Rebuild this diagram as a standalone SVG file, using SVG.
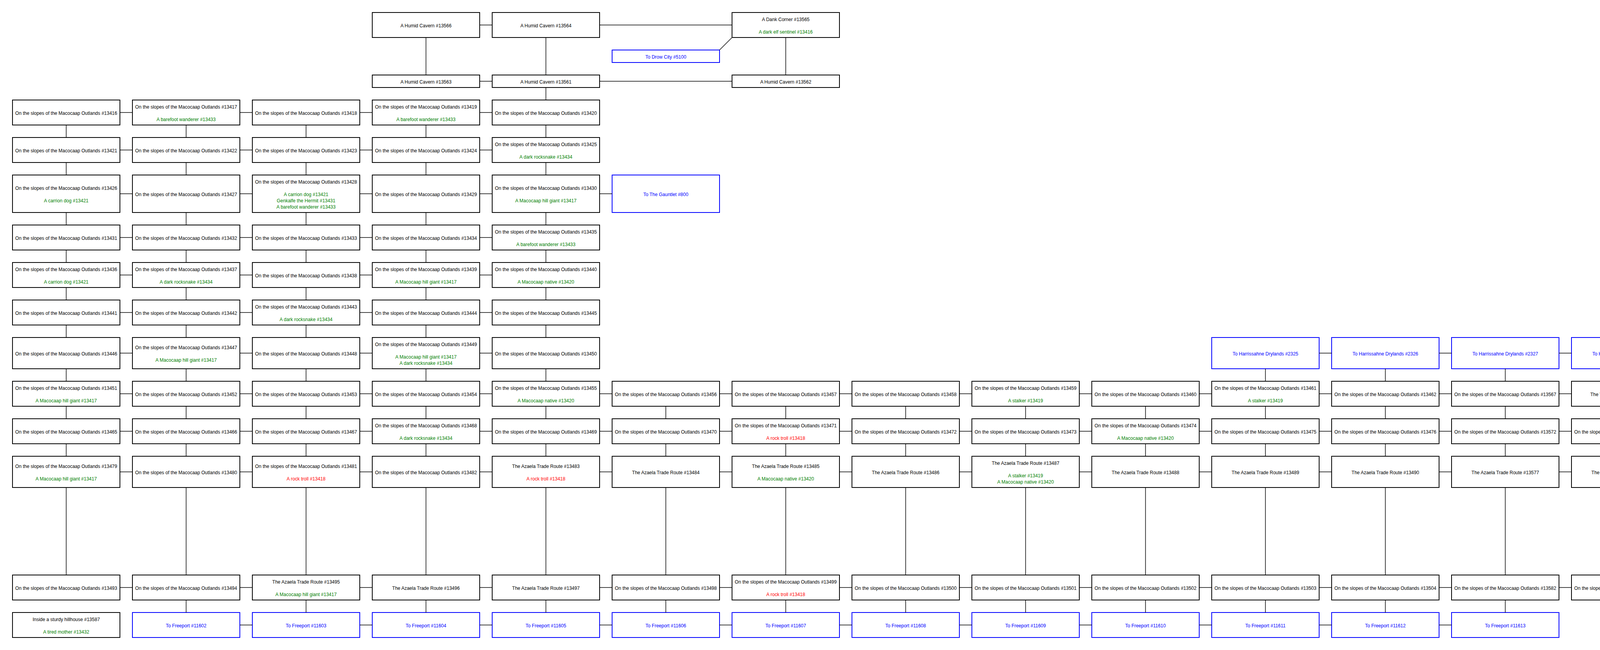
<svg xmlns="http://www.w3.org/2000/svg" width="6934" height="1664" viewBox="0 0 6934 1664">
<style>
.b{fill:#fff;stroke:#000;stroke-width:2}
.x{fill:#fff;stroke:#00f;stroke-width:2}
text{font-family:"Liberation Sans",Arial,Helvetica,sans-serif;font-size:12px;text-anchor:middle;fill:#000}
text.g{fill:#008000}
text.r{fill:#f00}
text.u{fill:#00f}
.e path{fill:none;stroke:#000;stroke-width:1.5}
.e path.a{marker-end:url(#ah)}
</style>
<defs>
<marker id="ah" markerUnits="userSpaceOnUse" markerWidth="12" markerHeight="18" viewBox="0 0 12 18" refX="9" refY="9" orient="auto"><path d="M9,9 L1,1 L1,17 Z" fill="#fff" stroke="#000" stroke-width="1.5"/></marker>
</defs>
<rect width="6934" height="1664" fill="#fff"/>
<g id="nodes">
<g id="n13566"><rect class="b" x="953" y="32" width="275" height="64"/><text x="1090.5" y="70">A Humid Cavern #13566</text></g>
<g id="n13564"><rect class="b" x="1260" y="32" width="275" height="64"/><text x="1397.5" y="70">A Humid Cavern #13564</text></g>
<g id="n13565"><rect class="b" x="1874" y="32" width="275" height="64"/><text x="2011.5" y="54">A Dank Corner #13565</text><text class="g" x="2011.5" y="86">A dark elf sentinel #13416</text></g>
<g id="n5100"><rect class="x" x="1567" y="128" width="275" height="32"/><text class="u" x="1704.5" y="150">To Drow City #5100</text></g>
<g id="n13563"><rect class="b" x="953" y="192" width="275" height="32"/><text x="1090.5" y="214">A Humid Cavern #13563</text></g>
<g id="n13561"><rect class="b" x="1260" y="192" width="275" height="32"/><text x="1397.5" y="214">A Humid Cavern #13561</text></g>
<g id="n13562"><rect class="b" x="1874" y="192" width="275" height="32"/><text x="2011.5" y="214">A Humid Cavern #13562</text></g>

<g id="n13416"><rect class="b" x="32" y="256" width="275" height="64"/><text x="169.5" y="294">On the slopes of the Macocaap Outlands #13416</text></g>
<g id="n13417"><rect class="b" x="339" y="256" width="275" height="64"/><text x="476.5" y="278">On the slopes of the Macocaap Outlands #13417</text><text class="g" x="476.5" y="310">A barefoot wanderer #13433</text></g>
<g id="n13418"><rect class="b" x="646" y="256" width="275" height="64"/><text x="783.5" y="294">On the slopes of the Macocaap Outlands #13418</text></g>
<g id="n13419"><rect class="b" x="953" y="256" width="275" height="64"/><text x="1090.5" y="278">On the slopes of the Macocaap Outlands #13419</text><text class="g" x="1090.5" y="310">A barefoot wanderer #13433</text></g>
<g id="n13420"><rect class="b" x="1260" y="256" width="275" height="64"/><text x="1397.5" y="294">On the slopes of the Macocaap Outlands #13420</text></g>

<g id="n13421"><rect class="b" x="32" y="352" width="275" height="64"/><text x="169.5" y="390">On the slopes of the Macocaap Outlands #13421</text></g>
<g id="n13422"><rect class="b" x="339" y="352" width="275" height="64"/><text x="476.5" y="390">On the slopes of the Macocaap Outlands #13422</text></g>
<g id="n13423"><rect class="b" x="646" y="352" width="275" height="64"/><text x="783.5" y="390">On the slopes of the Macocaap Outlands #13423</text></g>
<g id="n13424"><rect class="b" x="953" y="352" width="275" height="64"/><text x="1090.5" y="390">On the slopes of the Macocaap Outlands #13424</text></g>
<g id="n13425"><rect class="b" x="1260" y="352" width="275" height="64"/><text x="1397.5" y="374">On the slopes of the Macocaap Outlands #13425</text><text class="g" x="1397.5" y="406">A dark rocksnake #13434</text></g>

<g id="n13426"><rect class="b" x="32" y="448" width="275" height="96"/><text x="169.5" y="486">On the slopes of the Macocaap Outlands #13426</text><text class="g" x="169.5" y="518">A carrion dog #13421</text></g>
<g id="n13427"><rect class="b" x="339" y="448" width="275" height="96"/><text x="476.5" y="502">On the slopes of the Macocaap Outlands #13427</text></g>
<g id="n13428"><rect class="b" x="646" y="448" width="275" height="96"/><text x="783.5" y="470">On the slopes of the Macocaap Outlands #13428</text><text class="g" x="783.5" y="502">A carrion dog #13421</text><text class="g" x="783.5" y="518">Genkalfe the Hermit #13431</text><text class="g" x="783.5" y="534">A barefoot wanderer #13433</text></g>
<g id="n13429"><rect class="b" x="953" y="448" width="275" height="96"/><text x="1090.5" y="502">On the slopes of the Macocaap Outlands #13429</text></g>
<g id="n13430"><rect class="b" x="1260" y="448" width="275" height="96"/><text x="1397.5" y="486">On the slopes of the Macocaap Outlands #13430</text><text class="g" x="1397.5" y="518">A Macocaap hill giant #13417</text></g>
<g id="n800"><rect class="x" x="1567" y="448" width="275" height="96"/><text class="u" x="1704.5" y="502">To The Gauntlet #800</text></g>

<g id="n13431"><rect class="b" x="32" y="576" width="275" height="64"/><text x="169.5" y="614">On the slopes of the Macocaap Outlands #13431</text></g>
<g id="n13432"><rect class="b" x="339" y="576" width="275" height="64"/><text x="476.5" y="614">On the slopes of the Macocaap Outlands #13432</text></g>
<g id="n13433"><rect class="b" x="646" y="576" width="275" height="64"/><text x="783.5" y="614">On the slopes of the Macocaap Outlands #13433</text></g>
<g id="n13434"><rect class="b" x="953" y="576" width="275" height="64"/><text x="1090.5" y="614">On the slopes of the Macocaap Outlands #13434</text></g>
<g id="n13435"><rect class="b" x="1260" y="576" width="275" height="64"/><text x="1397.5" y="598">On the slopes of the Macocaap Outlands #13435</text><text class="g" x="1397.5" y="630">A barefoot wanderer #13433</text></g>

<g id="n13436"><rect class="b" x="32" y="672" width="275" height="64"/><text x="169.5" y="694">On the slopes of the Macocaap Outlands #13436</text><text class="g" x="169.5" y="726">A carrion dog #13421</text></g>
<g id="n13437"><rect class="b" x="339" y="672" width="275" height="64"/><text x="476.5" y="694">On the slopes of the Macocaap Outlands #13437</text><text class="g" x="476.5" y="726">A dark rocksnake #13434</text></g>
<g id="n13438"><rect class="b" x="646" y="672" width="275" height="64"/><text x="783.5" y="710">On the slopes of the Macocaap Outlands #13438</text></g>
<g id="n13439"><rect class="b" x="953" y="672" width="275" height="64"/><text x="1090.5" y="694">On the slopes of the Macocaap Outlands #13439</text><text class="g" x="1090.5" y="726">A Macocaap hill giant #13417</text></g>
<g id="n13440"><rect class="b" x="1260" y="672" width="275" height="64"/><text x="1397.5" y="694">On the slopes of the Macocaap Outlands #13440</text><text class="g" x="1397.5" y="726">A Macocaap native #13420</text></g>

<g id="n13441"><rect class="b" x="32" y="768" width="275" height="64"/><text x="169.5" y="806">On the slopes of the Macocaap Outlands #13441</text></g>
<g id="n13442"><rect class="b" x="339" y="768" width="275" height="64"/><text x="476.5" y="806">On the slopes of the Macocaap Outlands #13442</text></g>
<g id="n13443"><rect class="b" x="646" y="768" width="275" height="64"/><text x="783.5" y="790">On the slopes of the Macocaap Outlands #13443</text><text class="g" x="783.5" y="822">A dark rocksnake #13434</text></g>
<g id="n13444"><rect class="b" x="953" y="768" width="275" height="64"/><text x="1090.5" y="806">On the slopes of the Macocaap Outlands #13444</text></g>
<g id="n13445"><rect class="b" x="1260" y="768" width="275" height="64"/><text x="1397.5" y="806">On the slopes of the Macocaap Outlands #13445</text></g>

<g id="n13446"><rect class="b" x="32" y="864" width="275" height="80"/><text x="169.5" y="910">On the slopes of the Macocaap Outlands #13446</text></g>
<g id="n13447"><rect class="b" x="339" y="864" width="275" height="80"/><text x="476.5" y="894">On the slopes of the Macocaap Outlands #13447</text><text class="g" x="476.5" y="926">A Macocaap hill giant #13417</text></g>
<g id="n13448"><rect class="b" x="646" y="864" width="275" height="80"/><text x="783.5" y="910">On the slopes of the Macocaap Outlands #13448</text></g>
<g id="n13449"><rect class="b" x="953" y="864" width="275" height="80"/><text x="1090.5" y="886">On the slopes of the Macocaap Outlands #13449</text><text class="g" x="1090.5" y="918">A Macocaap hill giant #13417</text><text class="g" x="1090.5" y="934">A dark rocksnake #13434</text></g>
<g id="n13450"><rect class="b" x="1260" y="864" width="275" height="80"/><text x="1397.5" y="910">On the slopes of the Macocaap Outlands #13450</text></g>
<g id="n2325"><rect class="x" x="3102" y="864" width="275" height="80"/><text class="u" x="3239.5" y="910">To Harrissahne Drylands #2325</text></g>
<g id="n2326"><rect class="x" x="3409" y="864" width="275" height="80"/><text class="u" x="3546.5" y="910">To Harrissahne Drylands #2326</text></g>
<g id="n2327"><rect class="x" x="3716" y="864" width="275" height="80"/><text class="u" x="3853.5" y="910">To Harrissahne Drylands #2327</text></g>
<g id="n2328"><rect class="x" x="4023" y="864" width="275" height="80"/><text class="u" x="4160.5" y="910">To Harrissahne Drylands #2328</text></g>
<g id="n2329"><rect class="x" x="5084" y="864" width="275" height="80"/><text class="u" x="5221.5" y="910">To Harrissahne Drylands #2329</text></g>
<g id="n2330"><rect class="x" x="5391" y="864" width="275" height="80"/><text class="u" x="5528.5" y="910">To Harrissahne Drylands #2330</text></g>

<g id="n13451"><rect class="b" x="32" y="976" width="275" height="64"/><text x="169.5" y="998">On the slopes of the Macocaap Outlands #13451</text><text class="g" x="169.5" y="1030">A Macocaap hill giant #13417</text></g>
<g id="n13452"><rect class="b" x="339" y="976" width="275" height="64"/><text x="476.5" y="1014">On the slopes of the Macocaap Outlands #13452</text></g>
<g id="n13453"><rect class="b" x="646" y="976" width="275" height="64"/><text x="783.5" y="1014">On the slopes of the Macocaap Outlands #13453</text></g>
<g id="n13454"><rect class="b" x="953" y="976" width="275" height="64"/><text x="1090.5" y="1014">On the slopes of the Macocaap Outlands #13454</text></g>
<g id="n13455"><rect class="b" x="1260" y="976" width="275" height="64"/><text x="1397.5" y="998">On the slopes of the Macocaap Outlands #13455</text><text class="g" x="1397.5" y="1030">A Macocaap native #13420</text></g>
<g id="n13456"><rect class="b" x="1567" y="976" width="275" height="64"/><text x="1704.5" y="1014">On the slopes of the Macocaap Outlands #13456</text></g>
<g id="n13457"><rect class="b" x="1874" y="976" width="275" height="64"/><text x="2011.5" y="1014">On the slopes of the Macocaap Outlands #13457</text></g>
<g id="n13458"><rect class="b" x="2181" y="976" width="275" height="64"/><text x="2318.5" y="1014">On the slopes of the Macocaap Outlands #13458</text></g>
<g id="n13459"><rect class="b" x="2488" y="976" width="275" height="64"/><text x="2625.5" y="998">On the slopes of the Macocaap Outlands #13459</text><text class="g" x="2625.5" y="1030">A stalker #13419</text></g>
<g id="n13460"><rect class="b" x="2795" y="976" width="275" height="64"/><text x="2932.5" y="1014">On the slopes of the Macocaap Outlands #13460</text></g>
<g id="n13461"><rect class="b" x="3102" y="976" width="275" height="64"/><text x="3239.5" y="998">On the slopes of the Macocaap Outlands #13461</text><text class="g" x="3239.5" y="1030">A stalker #13419</text></g>
<g id="n13462"><rect class="b" x="3409" y="976" width="275" height="64"/><text x="3546.5" y="1014">On the slopes of the Macocaap Outlands #13462</text></g>
<g id="n13567"><rect class="b" x="3716" y="976" width="275" height="64"/><text x="3853.5" y="1014">On the slopes of the Macocaap Outlands #13567</text></g>
<g id="n13568"><rect class="b" x="4023" y="976" width="275" height="64"/><text x="4160.5" y="1014">The Valasse Trade Route #13568</text></g>
<g id="n13569"><rect class="b" x="5084" y="976" width="275" height="64"/><text x="5221.5" y="1014">The Valasse Trade Route #13569</text></g>
<g id="n13570"><rect class="b" x="5391" y="976" width="275" height="64"/><text x="5528.5" y="1014">On the slopes of the Macocaap Outlands #13570</text></g>
<g id="n13571"><rect class="b" x="5698" y="976" width="275" height="64"/><text x="5835.5" y="1014">Overlooking the Ilangollen River Valley #13571</text></g>
<g id="n13463"><rect class="b" x="6005" y="976" width="275" height="64"/><text x="6142.5" y="1014">The Ilangollen River Valley #13463</text></g>
<g id="n13464"><rect class="b" x="6312" y="976" width="275" height="64"/><text x="6449.5" y="1014">Overlooking the Ilangollen River Valley #13464</text></g>

<g id="n13465"><rect class="b" x="32" y="1072" width="275" height="64"/><text x="169.5" y="1110">On the slopes of the Macocaap Outlands #13465</text></g>
<g id="n13466"><rect class="b" x="339" y="1072" width="275" height="64"/><text x="476.5" y="1110">On the slopes of the Macocaap Outlands #13466</text></g>
<g id="n13467"><rect class="b" x="646" y="1072" width="275" height="64"/><text x="783.5" y="1110">On the slopes of the Macocaap Outlands #13467</text></g>
<g id="n13468"><rect class="b" x="953" y="1072" width="275" height="64"/><text x="1090.5" y="1094">On the slopes of the Macocaap Outlands #13468</text><text class="g" x="1090.5" y="1126">A dark rocksnake #13434</text></g>
<g id="n13469"><rect class="b" x="1260" y="1072" width="275" height="64"/><text x="1397.5" y="1110">On the slopes of the Macocaap Outlands #13469</text></g>
<g id="n13470"><rect class="b" x="1567" y="1072" width="275" height="64"/><text x="1704.5" y="1110">On the slopes of the Macocaap Outlands #13470</text></g>
<g id="n13471"><rect class="b" x="1874" y="1072" width="275" height="64"/><text x="2011.5" y="1094">On the slopes of the Macocaap Outlands #13471</text><text class="r" x="2011.5" y="1126">A rock troll #13418</text></g>
<g id="n13472"><rect class="b" x="2181" y="1072" width="275" height="64"/><text x="2318.5" y="1110">On the slopes of the Macocaap Outlands #13472</text></g>
<g id="n13473"><rect class="b" x="2488" y="1072" width="275" height="64"/><text x="2625.5" y="1110">On the slopes of the Macocaap Outlands #13473</text></g>
<g id="n13474"><rect class="b" x="2795" y="1072" width="275" height="64"/><text x="2932.5" y="1094">On the slopes of the Macocaap Outlands #13474</text><text class="g" x="2932.5" y="1126">A Macocaap native #13420</text></g>
<g id="n13475"><rect class="b" x="3102" y="1072" width="275" height="64"/><text x="3239.5" y="1110">On the slopes of the Macocaap Outlands #13475</text></g>
<g id="n13476"><rect class="b" x="3409" y="1072" width="275" height="64"/><text x="3546.5" y="1110">On the slopes of the Macocaap Outlands #13476</text></g>
<g id="n13572"><rect class="b" x="3716" y="1072" width="275" height="64"/><text x="3853.5" y="1110">On the slopes of the Macocaap Outlands #13572</text></g>
<g id="n13573"><rect class="b" x="4023" y="1072" width="275" height="64"/><text x="4160.5" y="1110">On the slopes of the Macocaap Outlands #13573</text></g>
<g id="n13574"><rect class="b" x="5084" y="1072" width="275" height="64"/><text x="5221.5" y="1110">The Valasse Trade Route #13574</text></g>
<g id="n13575"><rect class="b" x="5391" y="1072" width="275" height="64"/><text x="5528.5" y="1110">The Azaela Trade Route #13575</text></g>
<g id="n13576"><rect class="b" x="5698" y="1072" width="275" height="64"/><text x="5835.5" y="1110">Before the Ebon Bridge #13576</text></g>
<g id="n13477"><rect class="b" x="6005" y="1072" width="275" height="64"/><text x="6142.5" y="1110">Upon the gleaming Ebon Bridge #13477</text></g>
<g id="n20462"><rect class="x" x="6312" y="1072" width="275" height="64"/><text class="u" x="6449.5" y="1110">To The town of Ebon Downs #20462</text></g>

<g id="n13479"><rect class="b" x="32" y="1168" width="275" height="80"/><text x="169.5" y="1198">On the slopes of the Macocaap Outlands #13479</text><text class="g" x="169.5" y="1230">A Macocaap hill giant #13417</text></g>
<g id="n13480"><rect class="b" x="339" y="1168" width="275" height="80"/><text x="476.5" y="1214">On the slopes of the Macocaap Outlands #13480</text></g>
<g id="n13481"><rect class="b" x="646" y="1168" width="275" height="80"/><text x="783.5" y="1198">On the slopes of the Macocaap Outlands #13481</text><text class="r" x="783.5" y="1230">A rock troll #13418</text></g>
<g id="n13482"><rect class="b" x="953" y="1168" width="275" height="80"/><text x="1090.5" y="1214">On the slopes of the Macocaap Outlands #13482</text></g>
<g id="n13483"><rect class="b" x="1260" y="1168" width="275" height="80"/><text x="1397.5" y="1198">The Azaela Trade Route #13483</text><text class="r" x="1397.5" y="1230">A rock troll #13418</text></g>
<g id="n13484"><rect class="b" x="1567" y="1168" width="275" height="80"/><text x="1704.5" y="1214">The Azaela Trade Route #13484</text></g>
<g id="n13485"><rect class="b" x="1874" y="1168" width="275" height="80"/><text x="2011.5" y="1198">The Azaela Trade Route #13485</text><text class="g" x="2011.5" y="1230">A Macocaap native #13420</text></g>
<g id="n13486"><rect class="b" x="2181" y="1168" width="275" height="80"/><text x="2318.5" y="1214">The Azaela Trade Route #13486</text></g>
<g id="n13487"><rect class="b" x="2488" y="1168" width="275" height="80"/><text x="2625.5" y="1190">The Azaela Trade Route #13487</text><text class="g" x="2625.5" y="1222">A stalker #13419</text><text class="g" x="2625.5" y="1238">A Macocaap native #13420</text></g>
<g id="n13488"><rect class="b" x="2795" y="1168" width="275" height="80"/><text x="2932.5" y="1214">The Azaela Trade Route #13488</text></g>
<g id="n13489"><rect class="b" x="3102" y="1168" width="275" height="80"/><text x="3239.5" y="1214">The Azaela Trade Route #13489</text></g>
<g id="n13490"><rect class="b" x="3409" y="1168" width="275" height="80"/><text x="3546.5" y="1214">The Azaela Trade Route #13490</text></g>
<g id="n13577"><rect class="b" x="3716" y="1168" width="275" height="80"/><text x="3853.5" y="1214">The Azaela Trade Route #13577</text></g>
<g id="n13578"><rect class="b" x="4023" y="1168" width="275" height="80"/><text x="4160.5" y="1214">The Azaela Trade Route #13578</text></g>
<g id="n13579"><rect class="b" x="5084" y="1168" width="275" height="80"/><text x="5221.5" y="1214">An outpost in the hills #13579</text></g>
<g id="n13580"><rect class="b" x="5391" y="1168" width="275" height="80"/><text x="5528.5" y="1214">The Azaela Trade Route #13580</text></g>
<g id="n13581"><rect class="b" x="5698" y="1168" width="275" height="80"/><text x="5835.5" y="1214">Overlooking the Ilangollen River Valley #13581</text></g>
<g id="n13491"><rect class="b" x="6005" y="1168" width="275" height="80"/><text x="6142.5" y="1214">The Ilangollen River Valley #13491</text></g>
<g id="n13492"><rect class="b" x="6312" y="1168" width="275" height="80"/><text x="6449.5" y="1214">On the slopes of the Macocaap Outlands #13492</text></g>
<g id="n20461"><rect class="x" x="6619" y="1168" width="284" height="80"/><text class="u" x="6761" y="1214">To The town of Ebon Downs #20461</text></g>

<g id="n13478"><rect class="b" x="4809.5" y="1280" width="243" height="32"/><text x="4931" y="1302">Within the ruins of the great tower #13478</text></g>
<g id="n13507"><rect class="b" x="4580" y="1344" width="198" height="32"/><text x="4679" y="1366">Inside the maze of tunnels #13507</text></g>
<g id="n11249"><rect class="x" x="4330" y="1408" width="219" height="32"/><text class="u" x="4439.5" y="1430">To Abandoned Guild of Chaos #11249</text></g>

<g id="n13493"><rect class="b" x="32" y="1472" width="275" height="64"/><text x="169.5" y="1510">On the slopes of the Macocaap Outlands #13493</text></g>
<g id="n13494"><rect class="b" x="339" y="1472" width="275" height="64"/><text x="476.5" y="1510">On the slopes of the Macocaap Outlands #13494</text></g>
<g id="n13495"><rect class="b" x="646" y="1472" width="275" height="64"/><text x="783.5" y="1494">The Azaela Trade Route #13495</text><text class="g" x="783.5" y="1526">A Macocaap hill giant #13417</text></g>
<g id="n13496"><rect class="b" x="953" y="1472" width="275" height="64"/><text x="1090.5" y="1510">The Azaela Trade Route #13496</text></g>
<g id="n13497"><rect class="b" x="1260" y="1472" width="275" height="64"/><text x="1397.5" y="1510">The Azaela Trade Route #13497</text></g>
<g id="n13498"><rect class="b" x="1567" y="1472" width="275" height="64"/><text x="1704.5" y="1510">On the slopes of the Macocaap Outlands #13498</text></g>
<g id="n13499"><rect class="b" x="1874" y="1472" width="275" height="64"/><text x="2011.5" y="1494">On the slopes of the Macocaap Outlands #13499</text><text class="r" x="2011.5" y="1526">A rock troll #13418</text></g>
<g id="n13500"><rect class="b" x="2181" y="1472" width="275" height="64"/><text x="2318.5" y="1510">On the slopes of the Macocaap Outlands #13500</text></g>
<g id="n13501"><rect class="b" x="2488" y="1472" width="275" height="64"/><text x="2625.5" y="1510">On the slopes of the Macocaap Outlands #13501</text></g>
<g id="n13502"><rect class="b" x="2795" y="1472" width="275" height="64"/><text x="2932.5" y="1510">On the slopes of the Macocaap Outlands #13502</text></g>
<g id="n13503"><rect class="b" x="3102" y="1472" width="275" height="64"/><text x="3239.5" y="1510">On the slopes of the Macocaap Outlands #13503</text></g>
<g id="n13504"><rect class="b" x="3409" y="1472" width="275" height="64"/><text x="3546.5" y="1510">On the slopes of the Macocaap Outlands #13504</text></g>
<g id="n13582"><rect class="b" x="3716" y="1472" width="275" height="64"/><text x="3853.5" y="1510">On the slopes of the Macocaap Outlands #13582</text></g>
<g id="n13583"><rect class="b" x="4023" y="1472" width="275" height="64"/><text x="4160.5" y="1510">On the slopes of the Macocaap Outlands #13583</text></g>
<g id="n13584"><rect class="b" x="5084" y="1472" width="275" height="64"/><text x="5221.5" y="1510">On the slopes of the Macocaap Outlands #13584</text></g>
<g id="n13585"><rect class="b" x="5391" y="1472" width="275" height="64"/><text x="5528.5" y="1510">On the slopes of the Macocaap Outlands #13585</text></g>
<g id="n13586"><rect class="b" x="5698" y="1472" width="275" height="64"/><text x="5835.5" y="1510">On the slopes of the Macocaap Outlands #13586</text></g>
<g id="n13505"><rect class="b" x="6005" y="1472" width="275" height="64"/><text x="6142.5" y="1510">On the slopes of the Macocaap Outlands #13505</text></g>
<g id="n13506"><rect class="b" x="6619" y="1472" width="284" height="64"/><text x="6761" y="1510">The Macocaap Hills overlooking the ocean #13506</text></g>

<g id="n13587"><rect class="b" x="32" y="1568" width="275" height="64"/><text x="169.5" y="1590">Inside a sturdy hillhouse #13587</text><text class="g" x="169.5" y="1622">A tired mother #13432</text></g>
<g id="n11602"><rect class="x" x="339" y="1568" width="275" height="64"/><text class="u" x="476.5" y="1606">To Freeport #11602</text></g>
<g id="n11603"><rect class="x" x="646" y="1568" width="275" height="64"/><text class="u" x="783.5" y="1606">To Freeport #11603</text></g>
<g id="n11604"><rect class="x" x="953" y="1568" width="275" height="64"/><text class="u" x="1090.5" y="1606">To Freeport #11604</text></g>
<g id="n11605"><rect class="x" x="1260" y="1568" width="275" height="64"/><text class="u" x="1397.5" y="1606">To Freeport #11605</text></g>
<g id="n11606"><rect class="x" x="1567" y="1568" width="275" height="64"/><text class="u" x="1704.5" y="1606">To Freeport #11606</text></g>
<g id="n11607"><rect class="x" x="1874" y="1568" width="275" height="64"/><text class="u" x="2011.5" y="1606">To Freeport #11607</text></g>
<g id="n11608"><rect class="x" x="2181" y="1568" width="275" height="64"/><text class="u" x="2318.5" y="1606">To Freeport #11608</text></g>
<g id="n11609"><rect class="x" x="2488" y="1568" width="275" height="64"/><text class="u" x="2625.5" y="1606">To Freeport #11609</text></g>
<g id="n11610"><rect class="x" x="2795" y="1568" width="275" height="64"/><text class="u" x="2932.5" y="1606">To Freeport #11610</text></g>
<g id="n11611"><rect class="x" x="3102" y="1568" width="275" height="64"/><text class="u" x="3239.5" y="1606">To Freeport #11611</text></g>
<g id="n11612"><rect class="x" x="3409" y="1568" width="275" height="64"/><text class="u" x="3546.5" y="1606">To Freeport #11612</text></g>
<g id="n11613"><rect class="x" x="3716" y="1568" width="275" height="64"/><text class="u" x="3853.5" y="1606">To Freeport #11613</text></g>
</g>

<g id="connectors" class="e">
<path d="M1228 64H1260"/><path d="M1535 64H1874"/><path d="M1228 208H1260"/><path d="M1535 208H1874"/>
<path d="M1874 96L1842 128"/>
<path d="M1090.5 96V192"/><path d="M1397.5 96V192"/><path d="M2011.5 96V192"/><path d="M1397.5 224V256"/>
<path d="M307 288H339"/><path d="M614 288H646"/><path d="M921 288H953"/><path d="M1228 288H1260"/>
<path d="M307 384H339"/><path d="M614 384H646"/><path d="M921 384H953"/><path d="M1228 384H1260"/>
<path d="M307 496H339"/><path d="M614 496H646"/><path d="M921 496H953"/><path d="M1228 496H1260"/><path d="M1535 496H1567"/>
<path d="M307 608H339"/><path d="M614 608H646"/><path d="M921 608H953"/><path d="M1228 608H1260"/>
<path d="M307 704H339"/><path d="M614 704H646"/><path d="M921 704H953"/><path d="M1228 704H1260"/>
<path d="M307 800H339"/><path d="M614 800H646"/><path d="M921 800H953"/><path d="M1228 800H1260"/>
<path d="M307 904H339"/><path d="M614 904H646"/><path d="M921 904H953"/><path d="M1228 904H1260"/>
<path d="M3377 904H3409"/><path d="M3684 904H3716"/><path d="M3991 904H4023"/><path d="M4298 904H5084"/><path d="M5359 904H5391"/>
<path d="M307 1008H339"/><path d="M614 1008H646"/><path d="M921 1008H953"/><path d="M1228 1008H1260"/><path d="M1535 1008H1567"/><path d="M1842 1008H1874"/><path d="M2149 1008H2181"/><path d="M2456 1008H2488"/><path d="M2763 1008H2795"/><path d="M3070 1008H3102"/><path d="M3377 1008H3409"/><path d="M3684 1008H3716"/><path d="M3991 1008H4023"/><path d="M4298 1008H5084"/><path d="M5359 1008H5391"/><path d="M5666 1008H5698"/><path d="M5973 1008H6005"/><path d="M6280 1008H6312"/>
<path d="M307 1104H339"/><path d="M614 1104H646"/><path d="M921 1104H953"/><path d="M1228 1104H1260"/><path d="M1535 1104H1567"/><path d="M1842 1104H1874"/><path d="M2149 1104H2181"/><path d="M2456 1104H2488"/><path d="M2763 1104H2795"/><path d="M3070 1104H3102"/><path d="M3377 1104H3409"/><path d="M3684 1104H3716"/><path d="M3991 1104H4023"/><path d="M4298 1104H5084"/><path d="M5359 1104H5391"/><path d="M5666 1104H5698"/><path d="M5973 1104H6005"/><path d="M6280 1104H6312"/>
<path d="M307 1208H339"/><path d="M614 1208H646"/><path d="M921 1208H953"/><path d="M1228 1208H1260"/><path d="M1535 1208H1567"/><path d="M1842 1208H1874"/><path d="M2149 1208H2181"/><path d="M2456 1208H2488"/><path d="M2763 1208H2795"/><path d="M3070 1208H3102"/><path d="M3377 1208H3409"/><path d="M3684 1208H3716"/><path d="M3991 1208H4023"/><path d="M4298 1208H5084"/><path d="M5359 1208H5391"/><path d="M5666 1208H5698"/><path d="M5973 1208H6005"/><path d="M6280 1208H6312"/>
<path d="M307 1504H339"/><path d="M614 1504H646"/><path d="M921 1504H953"/><path d="M1228 1504H1260"/><path d="M1535 1504H1567"/><path d="M1842 1504H1874"/><path d="M2149 1504H2181"/><path d="M2456 1504H2488"/><path d="M2763 1504H2795"/><path d="M3070 1504H3102"/><path d="M3377 1504H3409"/><path d="M3684 1504H3716"/><path d="M3991 1504H4023"/><path d="M4298 1504H5084"/><path d="M5359 1504H5391"/><path d="M5666 1504H5698"/><path d="M5973 1504H6005"/><path d="M6280 1504H6619"/>
<path d="M614 1600H646"/><path d="M921 1600H953"/><path d="M1228 1600H1260"/><path d="M1535 1600H1567"/><path d="M1842 1600H1874"/><path d="M2149 1600H2181"/><path d="M2456 1600H2488"/><path d="M2763 1600H2795"/><path d="M3070 1600H3102"/><path d="M3377 1600H3409"/><path d="M3684 1600H3716"/>
<path d="M169.5 320V352"/><path d="M169.5 416V448"/><path d="M169.5 544V576"/><path d="M169.5 640V672"/><path d="M169.5 736V768"/><path d="M169.5 832V864"/><path d="M169.5 944V976"/><path d="M169.5 1040V1072"/><path d="M169.5 1136V1168"/><path d="M169.5 1248V1472"/>
<path d="M476.5 320V352"/><path d="M476.5 416V448"/><path d="M476.5 544V576"/><path d="M476.5 640V672"/><path d="M476.5 736V768"/><path d="M476.5 832V864"/><path d="M476.5 944V976"/><path d="M476.5 1040V1072"/><path d="M476.5 1136V1168"/><path d="M476.5 1248V1472"/><path d="M476.5 1536V1568"/>
<path d="M783.5 320V352"/><path d="M783.5 416V448"/><path d="M783.5 544V576"/><path d="M783.5 640V672"/><path d="M783.5 736V768"/><path d="M783.5 832V864"/><path d="M783.5 944V976"/><path d="M783.5 1040V1072"/><path d="M783.5 1136V1168"/><path d="M783.5 1248V1472"/><path d="M783.5 1536V1568"/>
<path d="M1090.5 320V352"/><path d="M1090.5 416V448"/><path d="M1090.5 544V576"/><path d="M1090.5 640V672"/><path d="M1090.5 736V768"/><path d="M1090.5 832V864"/><path d="M1090.5 944V976"/><path d="M1090.5 1040V1072"/><path d="M1090.5 1136V1168"/><path d="M1090.5 1248V1472"/><path d="M1090.5 1536V1568"/>
<path d="M1397.5 320V352"/><path d="M1397.5 416V448"/><path d="M1397.5 544V576"/><path d="M1397.5 640V672"/><path d="M1397.5 736V768"/><path d="M1397.5 832V864"/><path d="M1397.5 944V976"/><path d="M1397.5 1040V1072"/><path d="M1397.5 1136V1168"/><path d="M1397.5 1248V1472"/><path d="M1397.5 1536V1568"/>
<path d="M1704.5 1040V1072"/><path d="M1704.5 1136V1168"/><path d="M1704.5 1248V1472"/><path d="M1704.5 1536V1568"/>
<path d="M2011.5 1040V1072"/><path d="M2011.5 1136V1168"/><path d="M2011.5 1248V1472"/><path d="M2011.5 1536V1568"/>
<path d="M2318.5 1040V1072"/><path d="M2318.5 1136V1168"/><path d="M2318.5 1248V1472"/><path d="M2318.5 1536V1568"/>
<path d="M2625.5 1040V1072"/><path d="M2625.5 1136V1168"/><path d="M2625.5 1248V1472"/><path d="M2625.5 1536V1568"/>
<path d="M2932.5 1040V1072"/><path d="M2932.5 1136V1168"/><path d="M2932.5 1248V1472"/><path d="M2932.5 1536V1568"/>
<path d="M3239.5 944V976"/><path d="M3239.5 1040V1072"/><path d="M3239.5 1136V1168"/><path d="M3239.5 1248V1472"/><path d="M3239.5 1536V1568"/>
<path d="M3546.5 944V976"/><path d="M3546.5 1040V1072"/><path d="M3546.5 1136V1168"/><path d="M3546.5 1248V1472"/><path d="M3546.5 1536V1568"/>
<path d="M3853.5 944V976"/><path d="M3853.5 1040V1072"/><path d="M3853.5 1136V1168"/><path d="M3853.5 1248V1472"/><path d="M3853.5 1536V1568"/>
<path d="M4160.5 944V976"/><path d="M4160.5 1040V1072"/><path d="M4160.5 1136V1168"/><path d="M4160.5 1248V1472"/>
<path d="M5221.5 944V976"/><path d="M5221.5 1040V1072"/><path d="M5221.5 1136V1168"/><path d="M5221.5 1248V1472"/>
<path d="M5528.5 944V976"/><path d="M5528.5 1040V1072"/><path d="M5528.5 1136V1168"/><path d="M5528.5 1248V1472"/>
<path d="M5835.5 1040V1072"/><path d="M5835.5 1136V1168"/><path d="M5835.5 1248V1472"/>
<path d="M6142.5 1248V1472"/>
<path d="M6449.5 1040V1072"/>
<path d="M4549 1408L4580 1376"/><path d="M4778 1344L4809.5 1312"/><path d="M5052.5 1280L5084 1248"/>
<path class="a" d="M6619 1218H6280"/>
<path class="a" d="M6761 1472V1248"/>
<path class="a" d="M6903 1168L6619 1536"/>
</g>
</svg>
